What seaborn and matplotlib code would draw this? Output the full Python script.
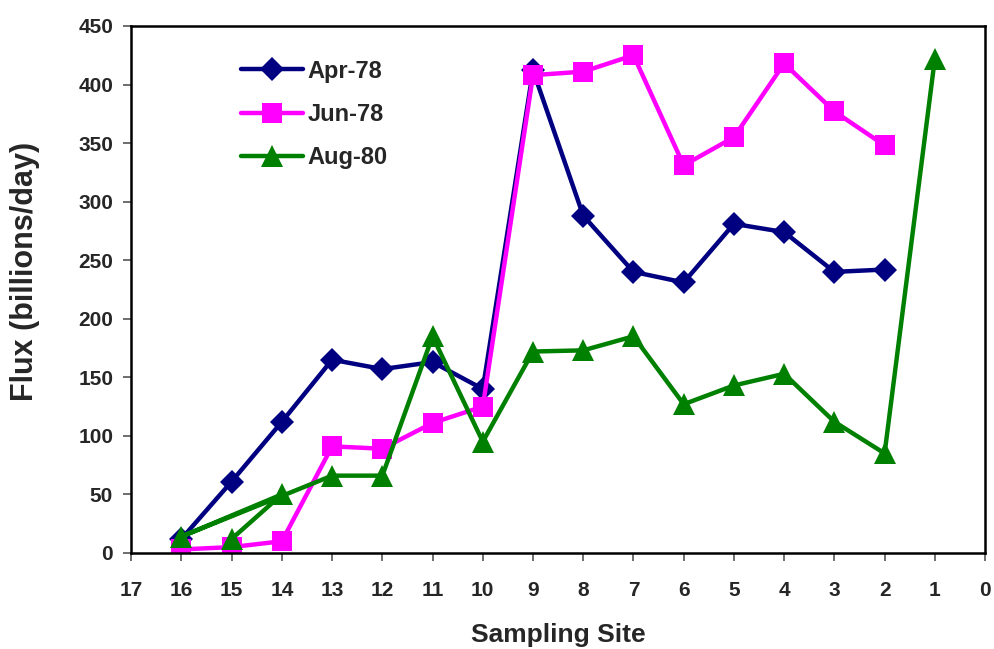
import matplotlib
matplotlib.use("Agg")
import matplotlib.pyplot as plt
import seaborn as sns
import pandas as pd

sns.set_style("white")
plt.rcParams['font.family'] = ['Liberation Sans', 'DejaVu Sans']
plt.rcParams['font.weight'] = 'bold'

# Data
apr_sites = [16, 15, 14, 13, 12, 11, 10, 9, 8, 7, 6, 5, 4, 3, 2]
apr_flux = [12, 61, 112, 165, 157, 163, 140, 412, 288, 240, 231, 281, 274, 240, 242]

jun_sites = [16, 15, 14, 13, 12, 11, 10, 9, 8, 7, 6, 5, 4, 3, 2]
jun_flux = [3, 5, 10, 91, 89, 111, 125, 408, 411, 425, 331, 355, 418, 377, 348]

aug_sites = [15, 14, 16, 13, 12, 11, 10, 9, 8, 7, 6, 5, 4, 3, 2, 1]
aug_flux = [12, 50, 14, 66, 66, 185, 95, 172, 173, 185, 127, 143, 153, 112, 85, 422]

series_names = ["Apr-78", "Jun-78", "Aug-80"]
x_ticks = list(range(0, 18))
y_ticks = list(range(0, 451, 50))

fig = plt.figure(figsize=(9.94, 6.49), dpi=100)
ax = fig.add_axes([0.132, 0.148, 0.859, 0.812])

styles = [
    (apr_sites, apr_flux, "#000080", "D", 12),
    (jun_sites, jun_flux, "#FF00FF", "s", 14),
    (aug_sites, aug_flux, "#008000", "^", 16),
]
for name, (xs, ys, col, mk, ms) in zip(series_names, styles):
    df = pd.DataFrame({"site": xs, "flux": ys})
    sns.lineplot(data=df, x="site", y="flux", sort=False, ax=ax, color=col,
                 linewidth=3.2, marker=mk, markersize=ms, markeredgecolor=col,
                 markeredgewidth=0, label=name)

ax.set_xlim(17, 0)
ax.set_ylim(0, 450)
ax.set_xticks(x_ticks)
ax.set_yticks(y_ticks)
ax.tick_params(axis='both', direction='out', length=6, width=1.2, color='#555555',
               labelsize=15, pad=7, bottom=True, left=True)
ax.tick_params(axis='x', pad=14)
for lab in ax.get_xticklabels() + ax.get_yticklabels():
    lab.set_fontweight('bold')
for sp in ax.spines.values():
    sp.set_color('black')
    sp.set_linewidth(1.8)
    sp.set_visible(True)

ax.set_xlabel("Sampling Site", fontsize=19, fontweight='bold')
ax.set_ylabel("Flux (billions/day)", fontsize=22, fontweight='bold')
ax.xaxis.set_label_coords(0.5, -0.132)
ax.yaxis.set_label_coords(-0.107, 0.535)

leg = ax.legend(loc='upper left', bbox_to_anchor=(0.129, 0.936), frameon=False,
                fontsize=17, handlelength=2.6, labelspacing=0.86, handletextpad=0.2,
                borderaxespad=0, borderpad=0)
for t in leg.get_texts():
    t.set_fontweight('bold')

fig.savefig("out.png", dpi=100)
